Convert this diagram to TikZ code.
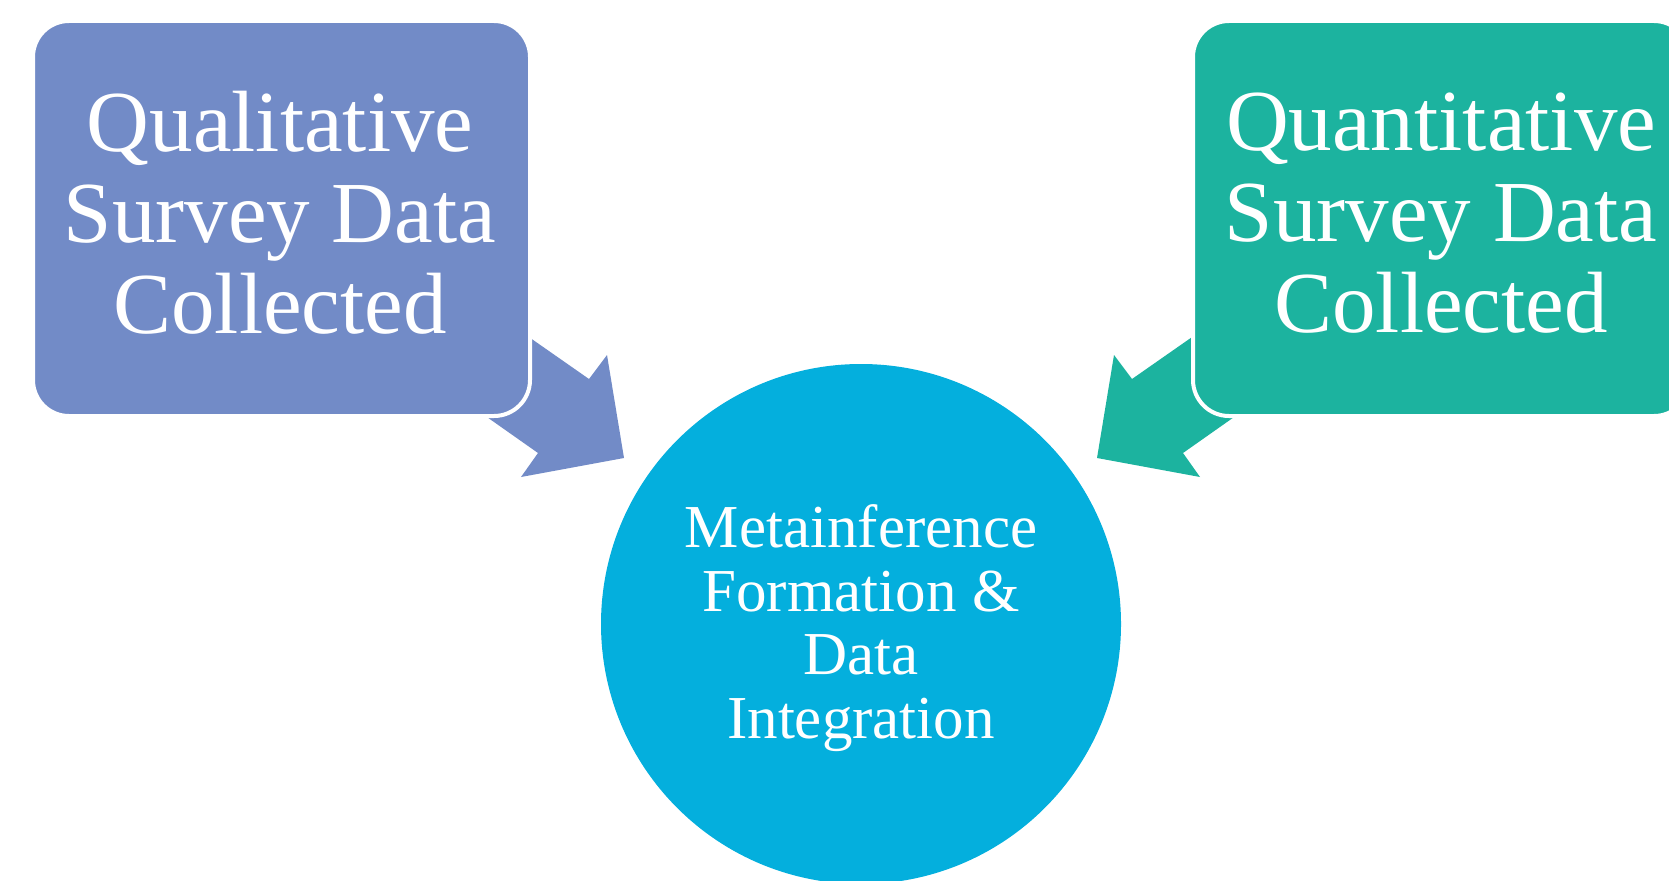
\documentclass[tikz,border=0pt]{standalone}
\usepackage{fontspec}
\setmainfont{Liberation Serif}
\definecolor{qualblue}{HTML}{728BC7}
\definecolor{quantgreen}{HTML}{1CB39F}
\definecolor{circblue}{HTML}{04AFDD}
\begin{document}
\begin{tikzpicture}[x=1pt,y=-1pt,
  box/.style={rounded corners=36pt, draw=white, line width=4pt, inner sep=0pt,
    minimum width=497pt, minimum height=395pt},
  boxtext/.style={text=white, align=center, inner sep=0pt,
    font=\fontsize{87}{91}\selectfont},
  circtext/.style={text=white, align=center, inner sep=0pt,
    font=\fontsize{61}{63.7}\selectfont},
  blockarrow/.style={draw=none}]
\useasboundingbox (0,0) rectangle (1669,880);
\clip (0,0) rectangle (1669,880);
% block arrows (behind the boxes)
\fill[qualblue, blockarrow] (410,254) -- (589,379) -- (607,355) -- (624,458)
  -- (521,477) -- (538,453) -- (369,334) -- cycle;
\fill[quantgreen, blockarrow] (1311,254) -- (1132,379) -- (1114,355) -- (1097,458)
  -- (1200,477) -- (1183,453) -- (1352,334) -- cycle;
% boxes
\node[box, fill=qualblue] (qual) at (281.5,218.5) {};
\node[box, fill=quantgreen] (quant) at (1441.5,218.5) {};
\node[circle, fill=circblue, minimum size=520pt, inner sep=0pt] (meta) at (861,624) {};
% texts
\node[boxtext] (qualtext) at (280,213) {Qualitative\\Survey Data\\Collected};
\node[boxtext] (quanttext) at (1441,213) {Quantitative\\Survey Data\\Collected};
\node[circtext] (metatext) at (861,628) {Metainference\\Formation \&\\Data\\Integration};
\end{tikzpicture}
\end{document}
